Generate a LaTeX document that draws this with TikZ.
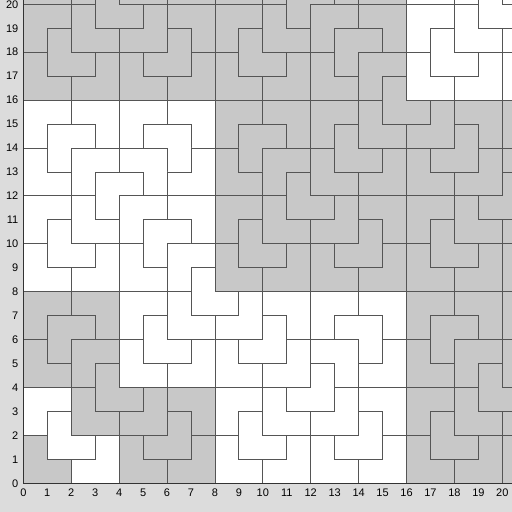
\documentclass[tikz,border=0pt]{standalone}
\usepackage{fontspec}
\setmainfont{Liberation Sans}
\definecolor{panel}{HTML}{DCDCDC}
\definecolor{tilegray}{HTML}{C8C8C8}
\definecolor{edge}{HTML}{555555}
\tikzset{
  tile/.style={draw=edge,line width=0.7pt},
  axisline/.style={draw=black!80,line width=0.8pt},
  lab/.style={inner sep=0pt,font=\fontsize{9.4}{11}\selectfont}
}
% chair: #1,#2 outer corner, #3 square size, #4,#5 directions, #6 fill
\newcommand\chairtile[6]{%
  \ifnum\numexpr#1-(1-(#4))*#3\relax<21
  \ifnum\numexpr#2-(1-(#5))*#3\relax<21
    \ifnum#3>1
      \begingroup
      \pgfmathtruncatemacro\hs{#3/2}%
      \pgfmathtruncatemacro\cx{#1+\hs*(#4)}%
      \pgfmathtruncatemacro\cy{#2+\hs*(#5)}%
      \pgfmathtruncatemacro\ax{#1+2*#3*(#4)}%
      \pgfmathtruncatemacro\ay{#2+2*#3*(#5)}%
      \edef\next{%
        \noexpand\chairtile{#1}{#2}{\hs}{#4}{#5}{#6}%
        \noexpand\chairtile{\cx}{\cy}{\hs}{#4}{#5}{#6}%
        \noexpand\chairtile{\ax}{#2}{\hs}{\the\numexpr0-(#4)\relax}{#5}{#6}%
        \noexpand\chairtile{#1}{\ay}{\hs}{#4}{\the\numexpr0-(#5)\relax}{#6}}%
      \next
      \endgroup
    \else
      \filldraw[tile,fill=#6] (#1,#2) -- ++({2*(#4)},0) -- ++(0,{#5})
        -- ++({0-(#4)},0) -- ++(0,{#5}) -- ++({0-(#4)},0) -- cycle;
    \fi
  \fi
  \fi}

\begin{document}
\begin{tikzpicture}[x=0.72cm,y=0.72cm]
\fill[panel] (-0.975,-1.2) rectangle (20.4,20.18);
\useasboundingbox (-0.975,-1.2) rectangle (20.4,20.18);
\fill[white] (0,0) rectangle (20.4,20.18);

\begin{scope}
\clip (0,0) rectangle (20.4,20.18);
\foreach \lev/\col in {5/white,4/tilegray,3/white,2/tilegray,1/white}
{
  \pgfmathtruncatemacro\sq{2^(\lev-1)}
  \pgfmathtruncatemacro\far{2^(\lev+1)}
  \chairtile{\sq}{\sq}{\sq}{1}{1}{\col}
  \chairtile{\far}{0}{\sq}{-1}{1}{\col}
  \chairtile{0}{\far}{\sq}{1}{-1}{\col}
}
\chairtile{0}{0}{1}{1}{1}{tilegray}
\end{scope}

\draw[axisline] (0,20.18) -- (0,0) -- (20.4,0);
\foreach \i in {0,...,20}
{
  \node[lab] (xl\i) at (\i,-0.39) {\i};
  \node[lab,anchor=east] (yl\i) at (-0.2,\i) {\i};
}
\end{tikzpicture}
\end{document}
